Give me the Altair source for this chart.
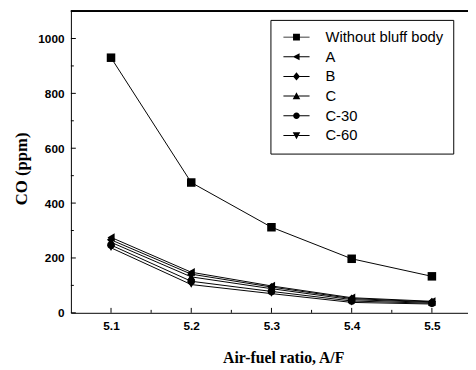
import altair as alt
import pandas as pd

# ---- data ----
af = [5.1, 5.2, 5.3, 5.4, 5.5]
series_names = ["Without bluff body", "A", "B", "C", "C-30", "C-60"]
co_without = [930, 475, 312, 197, 133]
co_a = [275, 148, 98, 55, 42]
co_b = [266, 141, 94, 52, 40]
co_c = [257, 131, 88, 48, 38]
co_c30 = [247, 115, 78, 43, 35]
co_c60 = [237, 103, 70, 38, 32]

y_major = [0, 200, 400, 600, 800, 1000]
y_minor = [100, 300, 500, 700, 900]
x_major = [5.1, 5.2, 5.3, 5.4, 5.5]
x_minor = [5.15, 5.25, 5.35, 5.45]

all_series = [co_without, co_a, co_b, co_c, co_c30, co_c60]
rows = []
for name, vals in zip(series_names, all_series):
    for x, v in zip(af, vals):
        rows.append({"series": name, "af": x, "co": v})
df = pd.DataFrame(rows)

W, H = 404, 307
XDOM = [5.05, 5.545]
YDOM = [0, 1100]

plot_shapes = ["square", "triangle-left", "diamond", "triangle-up", "circle", "triangle-down"]
plot_sizes = [75, 55, 60, 55, 55, 55]
STUB = "M-1.9,-0.07H-0.3V0.07H-1.9ZM0.3,-0.07H1.9V0.07H0.3Z"
legend_paths = [
    STUB + "M-0.5,-0.5H0.5V0.5H-0.5Z",
    STUB + "M-0.55,0L0.45,-0.5L0.45,0.5Z",
    STUB + "M0,-0.6L0.5,0L0,0.6L-0.5,0Z",
    STUB + "M0,-0.55L0.55,0.45L-0.55,0.45Z",
    STUB + "M-0.48,0A0.48,0.48,0,1,1,0.48,0A0.48,0.48,0,1,1,-0.48,0Z",
    STUB + "M0,0.55L-0.55,-0.45L0.55,-0.45Z",
]

xscale = alt.Scale(domain=XDOM, nice=False, zero=False)
yscale = alt.Scale(domain=YDOM, nice=False, zero=False)

xaxis = alt.Axis(
    values=x_major, format=".1f", title="Air-fuel ratio, A/F",
    ticks=False, grid=False, domain=True, domainColor="black", domainWidth=1,
    labelFont="Liberation Sans", labelFontWeight="bold", labelFontSize=12,
    labelColor="black", labelPadding=8,
    titleFont="Liberation Serif", titleFontWeight="bold", titleFontSize=16,
    titleColor="black", titleX=216, titleY=51, titleBaseline="alphabetic",
    titleAlign="center",
)
yaxis = alt.Axis(
    values=y_major, format="d", title="CO (ppm)",
    ticks=False, grid=False, domain=True, domainColor="black", domainWidth=1,
    labelFont="Liberation Sans", labelFontWeight="bold", labelFontSize=12,
    labelColor="black", labelPadding=7,
    titleFont="Liberation Serif", titleFontWeight="bold", titleFontSize=17,
    titleColor="black", titleX=-50, titleY=160, titleAngle=270,
    titleAlign="center", titleBaseline="middle",
)

X = alt.X("af:Q", scale=xscale, axis=xaxis)
Y = alt.Y("co:Q", scale=yscale, axis=yaxis)

lines = alt.Chart(df).mark_line(color="black", strokeWidth=1).encode(
    x=X, y=Y, detail="series:N"
)

points = alt.Chart(df).mark_point(filled=True, color="black", opacity=1).encode(
    x=X, y=Y,
    shape=alt.Shape("series:N", scale=alt.Scale(domain=series_names, range=plot_shapes), legend=None),
    size=alt.Size("series:N", scale=alt.Scale(domain=series_names, range=plot_sizes), legend=None),
)

legend_layer = alt.Chart(df).transform_filter("datum.co < 0").mark_point(
    filled=True, fill="black", stroke="black", strokeWidth=1, opacity=1
).encode(
    x=X, y=Y,
    shape=alt.Shape(
        "series:N",
        sort=series_names,
        scale=alt.Scale(domain=series_names, range=legend_paths),
        legend=alt.Legend(
            title=None, orient="none", legendX=203, legendY=9,
            strokeColor="black", padding=10, rowPadding=4,
            symbolSize=196, symbolFillColor="black", symbolStrokeColor="black",
            symbolStrokeWidth=0, symbolOpacity=1, symbolOffset=9,
            labelOffset=22, labelFont="Liberation Sans", labelFontSize=15,
            labelColor="black", labelLimit=300,
        ),
    ),
)

yt_major = pd.DataFrame({"co": y_major})
yt_minor = pd.DataFrame({"co": y_minor})
xt_major = pd.DataFrame({"af": x_major})
xt_minor = pd.DataFrame({"af": x_minor})

ytick_major = alt.Chart(yt_major).mark_rule(color="black", strokeWidth=1).encode(
    y=Y, x=alt.value(0), x2=alt.value(5)
)
ytick_minor = alt.Chart(yt_minor).mark_rule(color="black", strokeWidth=1).encode(
    y=Y, x=alt.value(0), x2=alt.value(3)
)
xtick_major = alt.Chart(xt_major).mark_rule(color="black", strokeWidth=1).encode(
    x=X, y=alt.value(H), y2=alt.value(H - 5)
)
xtick_minor = alt.Chart(xt_minor).mark_rule(color="black", strokeWidth=1).encode(
    x=X, y=alt.value(H), y2=alt.value(H - 3)
)
top_rule = alt.Chart(yt_major).mark_rule(color="black", strokeWidth=1).encode(
    x=alt.value(0), x2=alt.value(W), y=alt.value(0)
)

chart = alt.layer(
    lines, points, legend_layer, ytick_major, ytick_minor, xtick_major, xtick_minor, top_rule
).resolve_scale(shape="independent", size="independent").properties(
    width=W, height=H,
    autosize=alt.AutoSizeParams(type="none"),
    padding={"left": 64, "top": 0, "right": 0, "bottom": 52},
    background="white",
).configure_view(stroke=None)

chart.save("out.html", embed_options={"renderer": "svg", "actions": False})
